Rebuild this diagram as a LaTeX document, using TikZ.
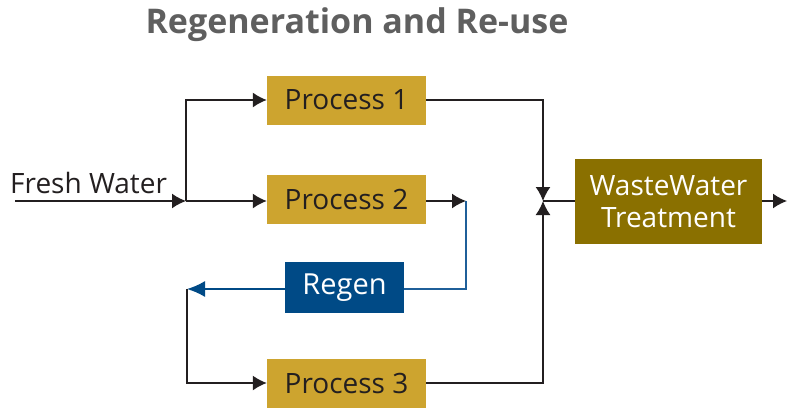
\documentclass[tikz,border=0pt]{standalone}
\usepackage{fontspec}
\setmainfont{Open Sans}
\usetikzlibrary{arrows.meta}
\definecolor{gold}{HTML}{CDA42F}
\definecolor{olive}{HTML}{8A7000}
\definecolor{regenblue}{HTML}{004A86}
\definecolor{linkblue}{HTML}{1F5F99}
\definecolor{ink}{HTML}{231F20}
\definecolor{titlegray}{HTML}{5F5F5F}
\begin{document}
\begin{tikzpicture}
	[x=1pt,y=-1pt,
	 proc/.style={rectangle,fill=gold,text=ink,minimum width=159pt,minimum height=49pt,inner sep=0pt,font=\fontsize{28}{30}\selectfont},
	 regen/.style={rectangle,fill=regenblue,text=white,minimum width=119pt,minimum height=51pt,inner sep=0pt,font=\fontsize{29}{30}\selectfont},
	 treat/.style={rectangle,fill=olive,text=white,minimum width=187pt,minimum height=85pt,inner sep=0pt,align=center,font=\fontsize{28}{32}\selectfont},
	 link/.style={ink,line width=1.5pt},
	 tip/.style={-{Latex[length=14pt,width=15pt]}},
	 bluetip/.style={-{Latex[length=18pt,width=16pt]}}]
	\useasboundingbox (0,0) rectangle (787,407);
	\node[font=\bfseries\fontsize{34}{36}\selectfont,text=titlegray,name=title] at (357,25) {Regeneration and Re-use};
	\node[proc,name=p1] at (346.5,100) {Process 1};
	\node[proc,name=p2] at (346.5,199.5) {Process 2};
	\node[regen,name=rg] at (344.5,287.5) {Regen};
	\node[proc,name=p3] at (346.5,383) {Process 3};
	\node[treat,name=wwt] at (668.5,201.5) {WasteWater\\Treatment};
	\node[font=\fontsize{28}{30}\selectfont,text=ink,anchor=base west,inner sep=0pt,name=fresh] at (10,193) {Fresh Water};
	\coordinate (in) at (15,201);
	\coordinate (split) at (186,201);
	\coordinate (j) at (543,201);
	\coordinate (out) at (787,201);
	\coordinate (turn) at (466,201);
	\coordinate (back) at (187,289);
	% fresh water in
	\draw[link,tip] (in) -- (split);
	\draw[link,tip] (split) |- (p1.west);
	\draw[link,tip] (split) -- (p2.west |- split);
	% to treatment
	\draw[link,tip] (p1.east) -| (j);
	\draw[link,tip] (p3.east) -| (j);
	\draw[link] (j) -- (wwt.west |- j);
	\draw[link,tip] (wwt.east |- j) -- (out);
	% regeneration loop
	\draw[link,tip] (p2.east |- turn) -- (turn);
	\draw[linkblue,line width=1.5pt] (turn) |- (rg.east |- back);
	\draw[regenblue,line width=1.5pt,bluetip] (rg.west |- back) -- (back);
	\draw[link,tip] (back) |- (p3.west);
\end{tikzpicture}
\end{document}
